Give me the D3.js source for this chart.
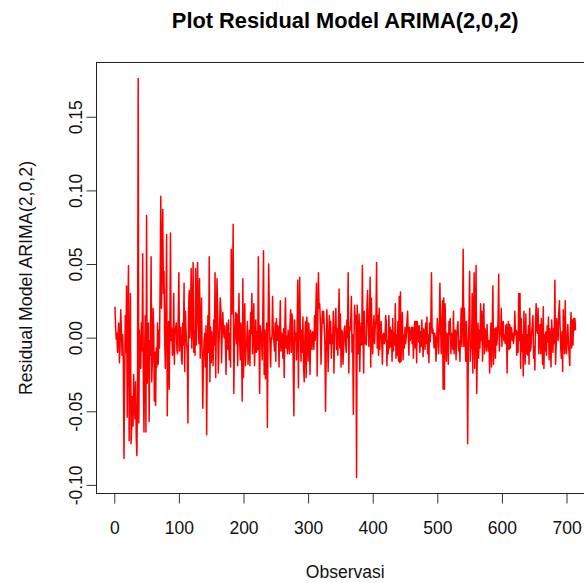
<!DOCTYPE html>
<html>
<head>
<meta charset="utf-8">
<script src="https://cdn.jsdelivr.net/npm/d3@7/dist/d3.min.js"></script>
<style>
  body { margin: 0; background: #fff; }
  text { font-family: "Liberation Sans", Arial, Helvetica, sans-serif; }
</style>
</head>
<body>
<div id="chart"></div>
<script>
var residuals = [
  0.021, 0.008, -0.001, 0.003, -0.010, 0.004, 0.010, -0.017, -0.005, 0.019,
  0.006, -0.012, 0.002, -0.015, -0.082, -0.030, 0.015, -0.010, 0.035, -0.054,
  0.012, 0.049, -0.070, -0.020, 0.030, -0.072, -0.061, -0.040, -0.060, -0.025,
  -0.045, -0.055, -0.030, -0.068, -0.080, -0.035, 0.176, -0.058, 0.005, -0.011,
  -0.021, 0.010, -0.009, 0.057, -0.030, -0.064, -0.009, 0.015, -0.064, 0.083,
  -0.031, -0.005, 0.010, -0.057, -0.002, -0.012, 0.055, -0.030, -0.015, 0.020,
  0.008, -0.043, -0.010, -0.046, -0.007, -0.020, 0.010, -0.018, 0.005, -0.007,
  0.040, 0.096, 0.020, 0.060, 0.087, 0.030, 0.045, 0.000, -0.021, 0.020,
  0.070, -0.053, -0.010, 0.011, -0.035, 0.005, 0.071, -0.002, 0.006, -0.012,
  -0.009, 0.030, -0.018, 0.003, 0.007, 0.010, -0.009, -0.011, 0.015, 0.044,
  -0.009, 0.002, 0.007, -0.014, -0.018, 0.010, -0.005, 0.037, -0.023, 0.018,
  0.005, -0.004, -0.011, -0.058, 0.020, 0.032, 0.000, 0.015, 0.047, -0.007,
  0.010, 0.051, -0.010, 0.004, -0.012, 0.047, -0.005, 0.020, 0.051, 0.011,
  // 131
  -0.004, 0.040, -0.014, 0.005, 0.027, -0.010, -0.048, -0.016, -0.002, 0.003,
  -0.020, 0.008, -0.066, -0.007, 0.015, -0.010, 0.055, -0.030, 0.007, -0.017,
  0.004, -0.007, -0.019, 0.012, -0.005, 0.044, -0.027, 0.010, 0.040, 0.016,
  -0.024, -0.005, 0.008, 0.027, 0.020, -0.017, 0.003, 0.017, 0.005, 0.000,
  0.008, -0.002, -0.025, 0.010, 0.004, -0.008, 0.012, -0.015, 0.003, -0.020,
  0.060, 0.016, 0.025, 0.077, -0.038, -0.005, 0.007, 0.017, -0.004, 0.016,
  -0.019, 0.005, 0.030, -0.001, -0.015, 0.010, -0.006, -0.043, 0.040, -0.027,
  0.006, 0.023, -0.019, -0.007, -0.003, 0.011, -0.018, -0.009, 0.005, -0.019,
  0.017, 0.003, 0.030, -0.011, 0.010, 0.023, -0.019, -0.005, 0.012, -0.010,
  0.004, -0.008, 0.055, -0.002, -0.038, 0.008, 0.004, -0.002, -0.015, 0.020,
  0.059, -0.025, 0.005, -0.028, -0.004, 0.010, -0.061, 0.005, 0.050, 0.015,
  -0.005, -0.020, 0.000, -0.001, 0.028, 0.005, -0.002, -0.009, 0.010, -0.016,
  0.013, -0.002, 0.008, 0.007, -0.020, 0.004, 0.025, -0.009, 0.003, 0.000,
  -0.014, 0.006, -0.027, 0.007, 0.027, -0.007, 0.001, -0.011, 0.005, -0.001,
  -0.011, 0.010, 0.019, -0.010, 0.016, 0.011, -0.020, -0.053,
  // 279
  0.012, -0.002, 0.003, -0.015, 0.005, 0.039, -0.034, 0.010, 0.041, 0.002,
  -0.016, 0.005, -0.010, 0.014, -0.020, -0.030, 0.000, 0.011, -0.027, 0.014,
  0.006, -0.016, 0.010, -0.002, -0.025, 0.005, 0.000, -0.008, 0.004, 0.003,
  -0.008, 0.015, -0.002, 0.020, 0.037, -0.026, 0.010, 0.044, 0.020, 0.023,
  0.010, -0.018, 0.000, 0.018, 0.010, 0.018, 0.008, -0.005, -0.050, -0.011,
  0.019, 0.004, -0.023, 0.000, 0.015, -0.004, 0.011, -0.014, 0.002, -0.004,
  0.018, -0.024, 0.003, 0.010, 0.020, -0.008, 0.006, -0.012, 0.010, 0.033,
  -0.007, 0.016, -0.020, 0.005, 0.004, -0.018, -0.007, 0.006, 0.008, -0.004,
  -0.010, 0.012, 0.000, 0.044, -0.024, 0.007, 0.005, 0.012, 0.028, -0.010,
  0.002, -0.052, -0.002, 0.022, 0.010, 0.015, -0.095, 0.022, -0.002, -0.011,
  0.016, -0.023, 0.003, 0.010, -0.005, 0.049, 0.005, -0.024, 0.018, -0.004,
  0.000, -0.005, 0.020, 0.032, 0.010, -0.006, 0.012, 0.041, -0.020, 0.027,
  0.002, -0.011, 0.005, 0.015, -0.004, 0.008, 0.012, 0.051, -0.007, 0.015,
  -0.012, 0.020, -0.008, 0.007, 0.011, -0.003, -0.018, 0.002, 0.003, -0.004,
  -0.002, 0.015,
  // 421
  0.011, -0.019, -0.002, -0.011, 0.015, -0.007, 0.007, -0.006, 0.005, -0.016,
  0.013, -0.009, 0.003, -0.005, 0.023, -0.014, 0.002, -0.012, 0.011, -0.016,
  0.028, -0.017, 0.031, -0.016, 0.006, 0.017, -0.015, 0.002, -0.007, 0.007,
  -0.004, 0.001, 0.011, 0.018, 0.002, -0.012, 0.007, -0.002, 0.001, 0.007,
  -0.004, 0.007, -0.014, 0.002, 0.011, -0.007, 0.011, -0.017, 0.011, 0.005,
  -0.003, 0.008, -0.010, 0.004, -0.006, 0.012, -0.001, -0.013, 0.006, 0.003,
  -0.008, 0.010, -0.004, 0.014, -0.011, 0.002, -0.017, 0.010, -0.003, 0.011,
  0.044, 0.003, 0.006, 0.002, -0.007, 0.003, 0.000, -0.016, -0.004, 0.013,
  0.002, -0.011, 0.005, 0.037, 0.010, -0.011, 0.008, 0.025, -0.035, 0.027,
  -0.035, 0.023, 0.004, -0.016, 0.003, 0.002, -0.018, 0.011, 0.002, 0.013,
  -0.011, 0.003, 0.002, -0.008, 0.018, -0.011, 0.005, 0.005, -0.015, 0.001,
  0.007, 0.011, -0.009, -0.002, -0.016, 0.005, 0.020, -0.006, 0.010, 0.060,
  -0.006, 0.020, 0.002, -0.016, 0.011, -0.005, -0.072, -0.007, 0.012, 0.045,
  -0.016, -0.007, -0.007, 0.030, -0.024, 0.010, 0.044, -0.021, 0.015, 0.049,
  -0.038, -0.010, 0.010, -0.014, 0.005, -0.007, 0.023, -0.002, 0.018, -0.016,
  // 571
  0.009, 0.023, -0.011, 0.006, 0.000, -0.009, 0.009, -0.003, -0.009, -0.002,
  -0.024, -0.002, 0.010, -0.020, 0.005, 0.035, -0.018, -0.002, 0.006, -0.014,
  0.007, -0.005, 0.000, 0.012, 0.043, -0.009, 0.004, 0.002, 0.020, -0.006,
  0.010, 0.011, -0.002, 0.002, -0.004, 0.008, 0.009, -0.024, 0.005, 0.011,
  -0.008, 0.009, -0.007, 0.007, 0.006, -0.002, 0.003, -0.004, 0.001, 0.018,
  0.002, 0.005, -0.012, 0.004, -0.010, 0.030, -0.002, 0.030, -0.021, 0.013,
  -0.009, 0.002, -0.026, 0.018, -0.005, -0.018, 0.016, -0.011, 0.002, -0.012,
  0.008, -0.018, 0.020, -0.009, -0.007, 0.003, 0.009, 0.015, -0.014, -0.006,
  -0.022, 0.012, 0.023, 0.005, 0.003, 0.020, -0.011, 0.002, 0.009, -0.011,
  0.013, -0.001, -0.018, 0.021, -0.021, 0.002, -0.009, 0.004, -0.012, 0.008,
  -0.003, 0.014, -0.015, 0.006, -0.001, -0.020, 0.012, 0.002, -0.010, 0.006,
  -0.004, 0.039, -0.018, -0.005, 0.013, 0.003, -0.002, 0.017, 0.025, 0.008,
  -0.007, -0.014, 0.004, -0.023, 0.019, 0.003, -0.011, 0.025, -0.005, -0.011,
  0.000, 0.009, -0.005, -0.011, -0.019, 0.006, 0.017, -0.007, 0.012, -0.005,
  0.013, 0.005, 0.013, 0.005
];

var xTicks = [0, 100, 200, 300, 400, 500, 600, 700];
var yTicks = [-0.10, -0.05, 0.00, 0.05, 0.10, 0.15];
var yTickLabels = ["-0.10", "-0.05", "0.00", "0.05", "0.10", "0.15"];

var titleText = "Plot Residual Model ARIMA(2,0,2)";
var xTitle = "Observasi";
var yTitle = "Residual Model ARIMA(2,0,2)";

var width = 584, height = 583;
// plot region like R's par("usr"); right edge runs past the window
var box = { left: 96.5, right: 594, top: 62.5, bottom: 493.5 };

var n = residuals.length;
var obs = d3.range(1, n + 1);

// R adds 4% on each side of the data range
var xPad = 0.04 * (n - 1);
var x = d3.scaleLinear()
  .domain([1 - xPad, n + xPad])
  .range([box.left, box.right]);

var ext = d3.extent(residuals);
var yPad = 0.04 * (ext[1] - ext[0]);
var y = d3.scaleLinear()
  .domain([ext[0] - yPad, ext[1] + yPad])
  .range([box.bottom, box.top]);

var svg = d3.select("#chart")
  .append("svg")
  .attr("width", width)
  .attr("height", height);

svg.append("rect")
  .attr("width", width)
  .attr("height", height)
  .attr("fill", "#fff");

// series
var line = d3.line()
  .x(function(d, i) { return x(obs[i]); })
  .y(function(d) { return y(d); });

svg.append("path")
  .datum(residuals)
  .attr("d", line)
  .attr("fill", "none")
  .attr("stroke", "#ff0000")
  .attr("stroke-width", 1.5)
  .attr("stroke-linejoin", "round");

// x axis
var gx = svg.append("g")
  .attr("transform", "translate(0," + box.bottom + ")")
  .call(d3.axisBottom(x)
    .tickValues(xTicks)
    .tickSize(10)
    .tickPadding(18)
    .tickFormat(d3.format("d")));

gx.select(".domain").remove();
gx.attr("font-size", 17.5).attr("font-family", null);
gx.selectAll(".tick line").attr("stroke", "#333");
gx.selectAll(".tick text").attr("fill", "#111");

// y axis, labels turned like R's las = 0
var gy = svg.append("g")
  .attr("transform", "translate(" + box.left + ",0)")
  .call(d3.axisLeft(y)
    .tickValues(yTicks)
    .tickSize(10)
    .tickFormat(function(d, i) { return yTickLabels[i]; }));

gy.select(".domain").remove();
gy.attr("font-size", 17.5).attr("font-family", null);
gy.selectAll(".tick line").attr("stroke", "#333");
gy.selectAll(".tick text")
  .attr("fill", "#111")
  .attr("transform", "rotate(-90)")
  .attr("x", 0)
  .attr("y", -15)
  .attr("dy", 0)
  .attr("text-anchor", "middle");

// plot box
svg.append("rect")
  .attr("x", box.left)
  .attr("y", box.top)
  .attr("width", box.right - box.left)
  .attr("height", box.bottom - box.top)
  .attr("fill", "none")
  .attr("stroke", "#222")
  .attr("stroke-width", 1);

var midX = (box.left + box.right) / 2;

svg.append("text")
  .attr("x", midX)
  .attr("y", 28)
  .attr("text-anchor", "middle")
  .attr("font-size", 21.8)
  .attr("font-weight", "bold")
  .attr("fill", "#000")
  .text(titleText);

svg.append("text")
  .attr("x", midX)
  .attr("y", 578)
  .attr("text-anchor", "middle")
  .attr("font-size", 17.5)
  .attr("fill", "#111")
  .text(xTitle);

svg.append("text")
  .attr("transform", "translate(32," + ((box.top + box.bottom) / 2) + ") rotate(-90)")
  .attr("text-anchor", "middle")
  .attr("font-size", 17.8)
  .attr("fill", "#111")
  .text(yTitle);
</script>
</body>
</html>
